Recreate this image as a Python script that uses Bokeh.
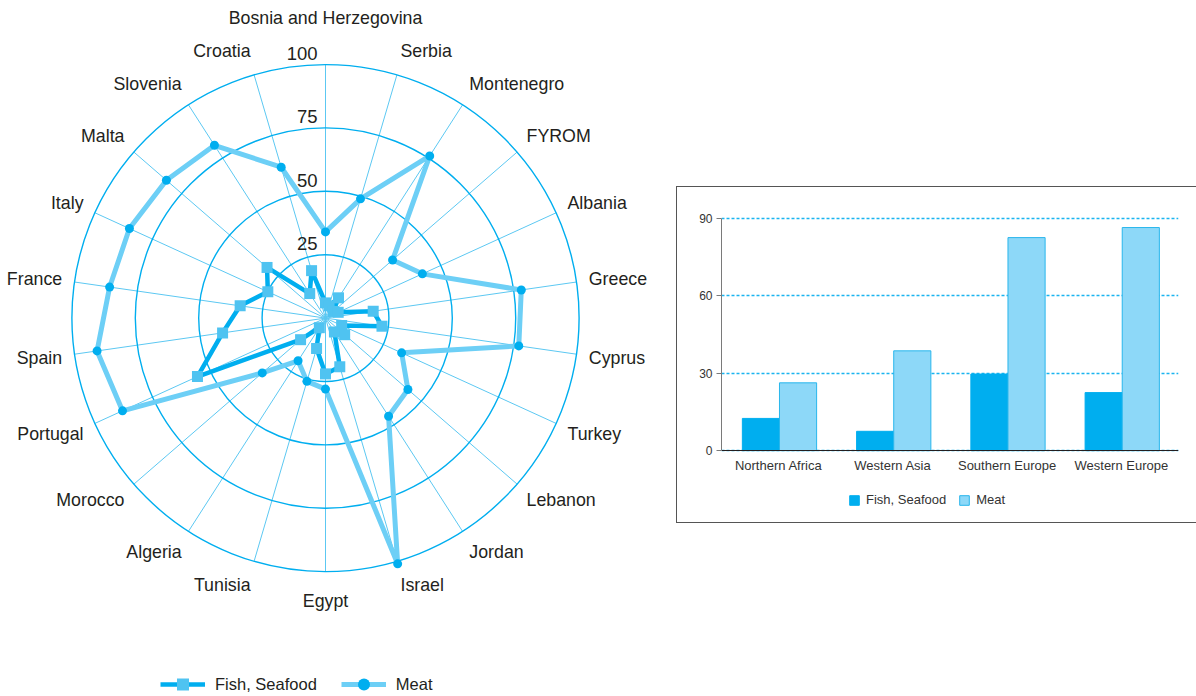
import math
from bokeh.plotting import figure
from bokeh.models import (ColumnDataSource, Legend, LegendItem, Range1d, FactorRange,
                          Spacer, FixedTicker)
from bokeh.layouts import row, column
from bokeh.transform import dodge
from bokeh.embed import file_html
from bokeh.resources import INLINE
from bokeh.core.properties import value

# ---------------- data ----------------
countries = ["Bosnia and Herzegovina", "Serbia", "Montenegro", "FYROM", "Albania", "Greece",
             "Cyprus", "Turkey", "Lebanon", "Jordan", "Israel", "Egypt", "Tunisia", "Algeria",
             "Morocco", "Portugal", "Spain", "France", "Italy", "Malta", "Slovenia", "Croatia"]
meat = [34, 49, 76, 35, 42, 78, 77, 33, 43, 46, 101, 28, 26, 20, 33, 88, 91, 86, 85, 83, 81, 62]
fish = [6, 5, 9.5, 4, 5.5, 19, 22.5, 7, 10, 6.5, 20, 22, 12.5, 4.5, 13, 55.5, 41, 34, 25, 30.5, 11.5, 19.5]
ring_values = [25, 50, 75, 100]

regions = ["Northern Africa", "Western Asia", "Southern Europe", "Western Europe"]
bar_fish = [12.5, 7.5, 29.7, 22.5]
bar_meat = [26.3, 38.7, 82.6, 86.5]
bar_ticks = [0, 30, 60, 90]

# ---------------- styling ----------------
FONT = "Liberation Sans"
DARK = "#231F20"
CYAN = "#00AEEF"
LIGHT = "#6DCFF6"
SPOKE = "#5CC8F2"

# ---------------- radar ----------------
CX, CY = 325.0, 317.6       # centre in page pixels
W1, H1 = 676, 696
SCALE = 2.536               # px per unit
rp = figure(width=W1, height=H1, output_backend="svg", toolbar_location=None,
            x_range=Range1d(-CX, W1 - CX), y_range=Range1d(CY - H1, CY),
            x_axis_type=None, y_axis_type=None, min_border=0)
rp.grid.visible = False
rp.outline_line_color = None
rp.background_fill_color = "white"
rp.border_fill_color = "white"

n = len(countries)
ang = [2 * math.pi * i / n for i in range(n)]
rmax = ring_values[-1] * SCALE

# spokes
rp.segment(x0=[0] * n, y0=[0] * n,
           x1=[rmax * math.sin(a) for a in ang], y1=[rmax * math.cos(a) for a in ang],
           line_color=SPOKE, line_width=1)
# rings
rp.circle(x=[0] * len(ring_values), y=[0] * len(ring_values),
          radius=[v * SCALE for v in ring_values],
          fill_color=None, line_color=CYAN, line_width=1.4)
# ring labels
rp.text(x=[-8] * len(ring_values), y=[v * SCALE + 11 for v in ring_values],
        text=[str(v) for v in ring_values], text_align="right", text_baseline="alphabetic",
        text_font=value(FONT), text_font_size="18.5px", text_color=DARK)


def xy(vals):
    xs = [v * SCALE * math.sin(a) for v, a in zip(vals, ang)]
    ys = [v * SCALE * math.cos(a) for v, a in zip(vals, ang)]
    return xs, ys


mx, my = xy(meat)
fx, fy = xy(fish)
meat_line = rp.line(mx + mx[:1], my + my[:1], line_color=LIGHT, line_width=5, line_join="round")
meat_dot = rp.scatter(mx, my, marker="circle", size=9, fill_color=CYAN, line_color=None)
fish_line = rp.line(fx + fx[:1], fy + fy[:1], line_color=CYAN, line_width=4.5, line_join="round")
fish_sq = rp.scatter(fx, fy, marker="square", size=11, fill_color="#4FC3F1", line_color=None)

# category labels
groups = {"left": ([], [], []), "right": ([], [], []), "center": ([], [], [])}
for c, a in zip(countries, ang):
    s, co = math.sin(a), math.cos(a)
    if abs(s) < 0.05:
        gx, gy = 0, (300 if co > 0 else -283)
        key = "center"
    else:
        gx, gy = 266 * s, 278 * co
        key = "left" if s > 0 else "right"
    groups[key][0].append(gx)
    groups[key][1].append(gy)
    groups[key][2].append(c)
for key, (gx, gy, gt) in groups.items():
    rp.text(x=gx, y=gy, text=gt, text_align=key, text_baseline="middle",
            text_font=value(FONT), text_font_size="17.8px", text_color=DARK)

rleg = Legend(items=[LegendItem(label="Fish, Seafood", renderers=[fish_line, fish_sq]),
                     LegendItem(label="Meat", renderers=[meat_line, meat_dot])],
              orientation="horizontal", location=(160, -3), glyph_width=45, glyph_height=30,
              label_height=16, label_standoff=10, spacing=24, padding=0, margin=0,
              background_fill_alpha=0, border_line_color=None,
              label_text_font=FONT, label_text_font_size="16.5px", label_text_color=DARK)
rp.add_layout(rleg)

# ---------------- bar chart ----------------
# frame spans from just above the 90 line down to the bottom of the box;
# the category axis sits at 0
PX_PER_UNIT = 2.56
TOP_PAD = 2.0               # px of frame above the 90 line so its gridline shows
FRAME_TOP, CANVAS_TOP, CANVAS_BOTTOM = 218.3 - TOP_PAD, 187.0, 522.0
y_high = 90 + TOP_PAD / PX_PER_UNIT
y_low = y_high - (CANVAS_BOTTOM - FRAME_TOP) / PX_PER_UNIT

src = ColumnDataSource(dict(region=regions, fish=bar_fish, meat=bar_meat))
bp = figure(width=520, height=337, output_backend="svg", toolbar_location=None,
            x_range=FactorRange(*regions, range_padding=0), y_range=Range1d(y_low, y_high),
            min_border_left=44, min_border_right=19,
            min_border_top=round(FRAME_TOP - CANVAS_TOP), min_border_bottom=0,
            styles={"border-left": "1px solid #555555", "border-top": "1px solid #555555",
                    "border-bottom": "1px solid #555555", "box-sizing": "border-box"})
bp.outline_line_color = None
fb = bp.vbar(x=dodge("region", -0.155, range=bp.x_range), top="fish", width=0.325, source=src,
             fill_color=CYAN, line_color=CYAN, line_width=1)
mb = bp.vbar(x=dodge("region", 0.17, range=bp.x_range), top="meat", width=0.325, source=src,
             fill_color="#8DD8F8", line_color="#29B6EC", line_width=1)
bp.xgrid.grid_line_color = None
bp.ygrid.ticker = FixedTicker(ticks=bar_ticks)
bp.ygrid.grid_line_color = "#1AB4F0"
bp.ygrid.grid_line_width = 1.3
bp.ygrid.grid_line_dash = "3 2"
bp.yaxis.ticker = FixedTicker(ticks=bar_ticks)
bp.yaxis.bounds = (0, 90)
bp.yaxis.axis_line_color = "#7A7A7A"
bp.yaxis.major_tick_line_color = "#7A7A7A"
bp.yaxis.major_tick_out = 5
bp.yaxis.major_tick_in = 0
bp.yaxis.minor_tick_line_color = None
bp.yaxis.major_label_text_font = FONT
bp.yaxis.major_label_text_font_size = "12px"
bp.yaxis.major_label_text_color = "#333333"
bp.yaxis.major_label_standoff = 4
bp.xaxis.fixed_location = 0
bp.xaxis.axis_line_color = DARK
bp.xaxis.axis_line_width = 1.2
bp.xaxis.major_tick_line_color = None
bp.xaxis.major_tick_out = 0
bp.xaxis.major_tick_in = 0
bp.xaxis.major_label_text_font = FONT
bp.xaxis.major_label_text_font_size = "13px"
bp.xaxis.major_label_text_color = "#333333"
bp.xaxis.major_label_standoff = 7

bleg = Legend(items=[LegendItem(label="Fish, Seafood", renderers=[fb]),
                     LegendItem(label="Meat", renderers=[mb])],
              orientation="horizontal", location=(127, 17), glyph_width=12, glyph_height=12,
              label_height=12, label_standoff=6, spacing=12, padding=0, margin=0,
              background_fill_alpha=0, border_line_color=None,
              label_text_font=FONT, label_text_font_size="13px", label_text_color="#333333")
bp.add_layout(bleg)

layout = row(rp, column(Spacer(width=520, height=186), bp))
open("out.html", "w").write(file_html(layout, INLINE))
